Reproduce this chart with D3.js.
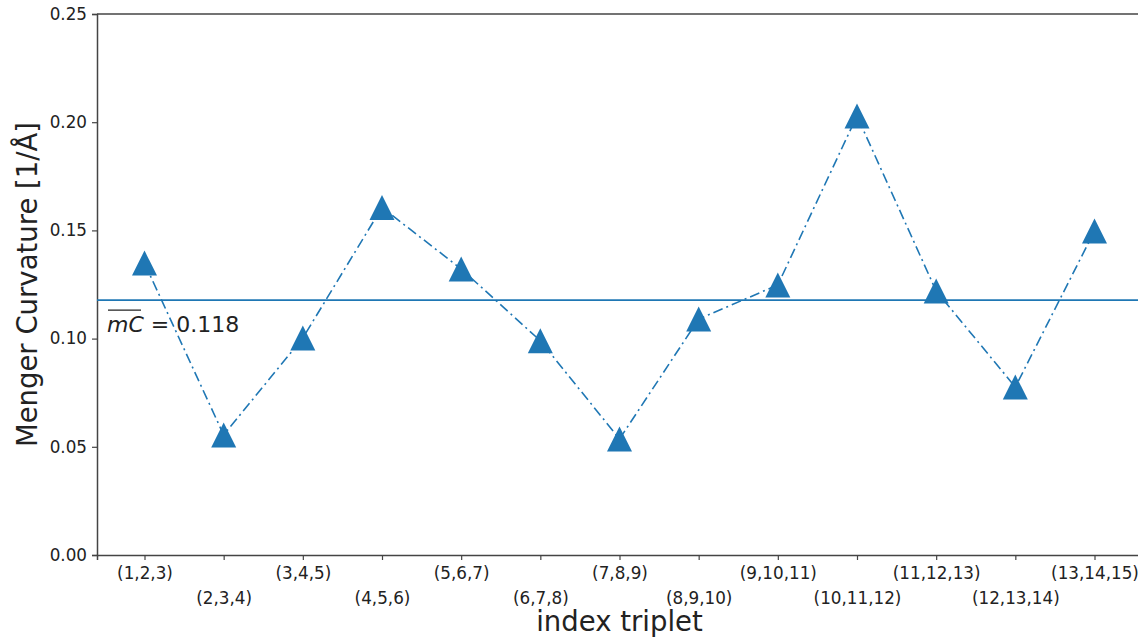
<!DOCTYPE html>
<html>
<head>
<meta charset="utf-8">
<script src="https://cdn.jsdelivr.net/npm/d3@7"></script>
<style>
  body { margin: 0; background: #fff; }
  text { font-family: "DejaVu Sans", sans-serif; fill: #222; }
</style>
</head>
<body>
<div id="chart"></div>
<script>
const triplets = ["(1,2,3)", "(2,3,4)", "(3,4,5)", "(4,5,6)", "(5,6,7)", "(6,7,8)", "(7,8,9)",
  "(8,9,10)", "(9,10,11)", "(10,11,12)", "(11,12,13)", "(12,13,14)", "(13,14,15)"];
const curvature = [0.1349, 0.0555, 0.1003, 0.1606, 0.1322, 0.0990, 0.0536,
  0.1090, 0.1248, 0.2029, 0.1220, 0.0776, 0.1497];
const meanValue = 0.1178;
const yTicks = [0.00, 0.05, 0.10, 0.15, 0.20, 0.25];

const margin = { top: 14, right: -4, bottom: 84, left: 97 };
const W = 1138, H = 639;
const width = W - margin.left - margin.right;
const height = H - margin.top - margin.bottom;
const color = "#1f77b4";

const svg = d3.select("#chart")
  .append("svg")
  .attr("width", W)
  .attr("height", H)
  .append("g")
  .attr("transform", `translate(${margin.left},${margin.top})`);

// matplotlib-like 5% margins on x
const x = d3.scaleLinear()
  .domain([-0.6, triplets.length - 1 + 0.6])
  .range([0, width]);

const y = d3.scaleLinear()
  .domain([0, 0.25])
  .range([height, 0]);

// x axis with staggered labels
const xAxis = svg.append("g")
  .attr("transform", `translate(0,${height})`)
  .call(d3.axisBottom(x)
    .tickValues(d3.range(triplets.length))
    .tickFormat(i => triplets[i])
    .tickSize(5)
    .tickPadding(7));
xAxis.selectAll("text")
  .attr("font-size", 16.8)
  .attr("dy", (d, i) => i % 2 ? "2.2em" : "0.71em");

const yAxis = svg.append("g")
  .call(d3.axisLeft(y)
    .tickValues(yTicks)
    .tickFormat(d3.format(".2f"))
    .tickSize(5)
    .tickPadding(5));
yAxis.selectAll("text").attr("font-size", 16.8);

svg.selectAll(".domain, .tick line").attr("stroke", "#444").attr("stroke-width", 1.2);
svg.selectAll(".domain").attr("stroke-width", 1.5);

// top spine
svg.append("line")
  .attr("x1", 0).attr("x2", width)
  .attr("y1", 0).attr("y2", 0)
  .attr("stroke", "#444").attr("stroke-width", 1.5);

// mean line
svg.append("line")
  .attr("x1", 0).attr("x2", width)
  .attr("y1", y(meanValue)).attr("y2", y(meanValue))
  .attr("stroke", color).attr("stroke-width", 1.6);

// mean label
const lbl = svg.append("text")
  .attr("x", 10)
  .attr("y", y(meanValue) + 32)
  .attr("font-size", 22);
lbl.append("tspan").attr("font-style", "italic").text("mC");
lbl.append("tspan").text(" = 0.118");
svg.append("line")
  .attr("x1", 11).attr("x2", 44)
  .attr("y1", y(meanValue) + 10).attr("y2", y(meanValue) + 10)
  .attr("stroke", "#222").attr("stroke-width", 1.3);

// dash-dot line
svg.append("path")
  .datum(curvature)
  .attr("fill", "none")
  .attr("stroke", color)
  .attr("stroke-width", 1.6)
  .attr("stroke-dasharray", "10,4,2,4")
  .attr("d", d3.line().x((d, i) => x(i)).y(d => y(d)));

// triangle markers
svg.selectAll(".marker")
  .data(curvature)
  .enter()
  .append("path")
  .attr("class", "marker")
  .attr("transform", (d, i) => `translate(${x(i)},${y(d)})`)
  .attr("d", "M0,-12.5L12.5,12.5L-12.5,12.5Z")
  .attr("fill", color);

// axis titles
svg.append("text")
  .attr("transform", `translate(${-60},${height / 2}) rotate(-90)`)
  .attr("text-anchor", "middle")
  .attr("font-size", 27.5)
  .text("Menger Curvature [1/Å]");

svg.append("text")
  .attr("x", width / 2)
  .attr("y", height + 76)
  .attr("text-anchor", "middle")
  .attr("font-size", 27.5)
  .text("index triplet");
</script>
</body>
</html>
